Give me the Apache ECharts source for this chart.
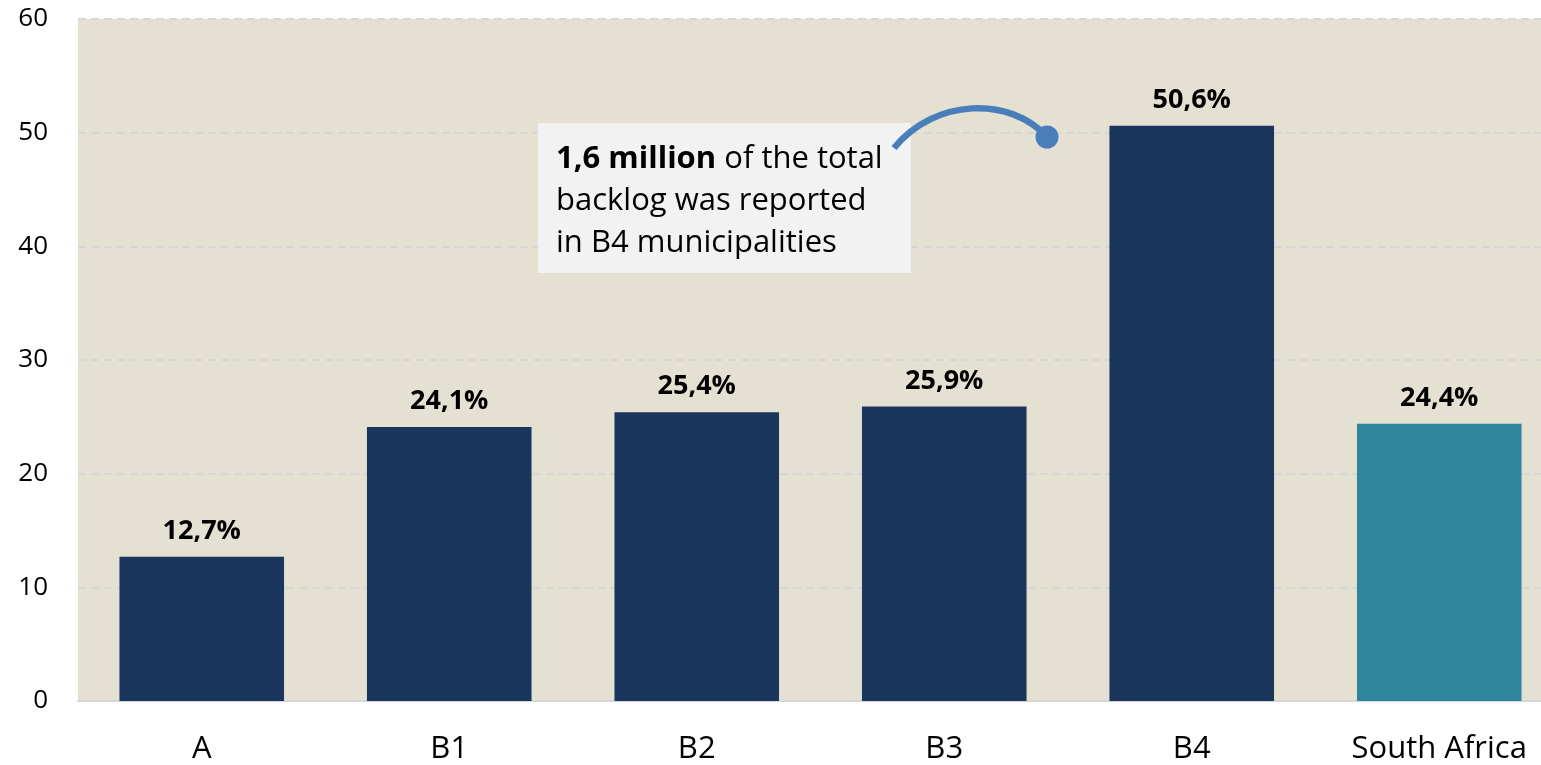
<!DOCTYPE html>
<html><head><meta charset="utf-8">
<script src="https://cdn.jsdelivr.net/npm/echarts@6/dist/echarts.min.js"></script>
<style>html,body{margin:0;padding:0;overflow:hidden;background:#fff;width:1541px;height:765px}#c{width:1563px;height:765px}</style>
</head><body><div id="c"></div>
<script>
const categories = ['A','B1','B2','B3','B4','South Africa'];
const values = [12.7, 24.1, 25.4, 25.9, 50.6, 24.4];
const barColors = ['#1a365d','#1a365d','#1a365d','#1a365d','#1a365d','#30859e'];
const valueLabels = ['12,7%','24,1%','25,4%','25,9%','50,6%','24,4%'];
const yTicks = [0,10,20,30,40,50,60];
const font = '"Open Sans", "Noto Sans", sans-serif';

const chart = echarts.init(document.getElementById('c'), null, {renderer:'canvas'});
chart.setOption({
  animation:false,
  backgroundColor:'#fff',
  textStyle:{fontFamily:font},
  grid:{left:78, right:0, top:19, bottom:63, show:true, backgroundColor:'#e4e1d3', borderWidth:0},
  xAxis:{type:'category', data:categories,
    axisLine:{show:true, lineStyle:{color:'#d6d6d6', width:2}},
    axisTick:{show:false},
    axisLabel:{color:'#000', fontSize:31, margin:33, fontFamily:font}},
  yAxis:{type:'value', min:yTicks[0], max:yTicks[yTicks.length-1], interval:10,
    axisLine:{show:false}, axisTick:{show:false},
    axisLabel:{color:'#000', fontSize:26, margin:30, fontFamily:font},
    splitLine:{show:true, lineStyle:{color:'#d6d6d6', width:2, type:[8,5]}}},
  series:[{type:'bar', barWidth:'66.5%',
    data: values.map((v,i)=>({value:v, itemStyle:{color:barColors[i]}})),
    label:{show:true, position:'top', distance:12, color:'#000', fontSize:27, fontWeight:'bold', fontFamily:font,
      formatter:p=>valueLabels[p.dataIndex]}}],
  graphic:[
    {type:'rect', shape:{x:538, y:123, width:373, height:150}, style:{fill:'#f2f2f2'}, z:10},
    {type:'text', x:556, y:138, z:11, style:{
      text:'{b|1,6 million} of the total\nbacklog was reported\nin B4 municipalities',
      font:'31px '+font, fill:'#000', lineHeight:42,
      rich:{b:{fontWeight:'bold', fontSize:31, fontFamily:font, lineHeight:42}}}},
    {type:'bezierCurve', z:11, shape:{x1:894, y1:148, cpx1:935, cpy1:98, cpx2:1010, cpy2:96, x2:1047, y2:137},
      style:{stroke:'#4a7ebb', lineWidth:6.5, fill:null}},
    {type:'circle', z:12, shape:{cx:1047, cy:137, r:11.5}, style:{fill:'#4a7ebb'}}
  ]
});
</script></body></html>
